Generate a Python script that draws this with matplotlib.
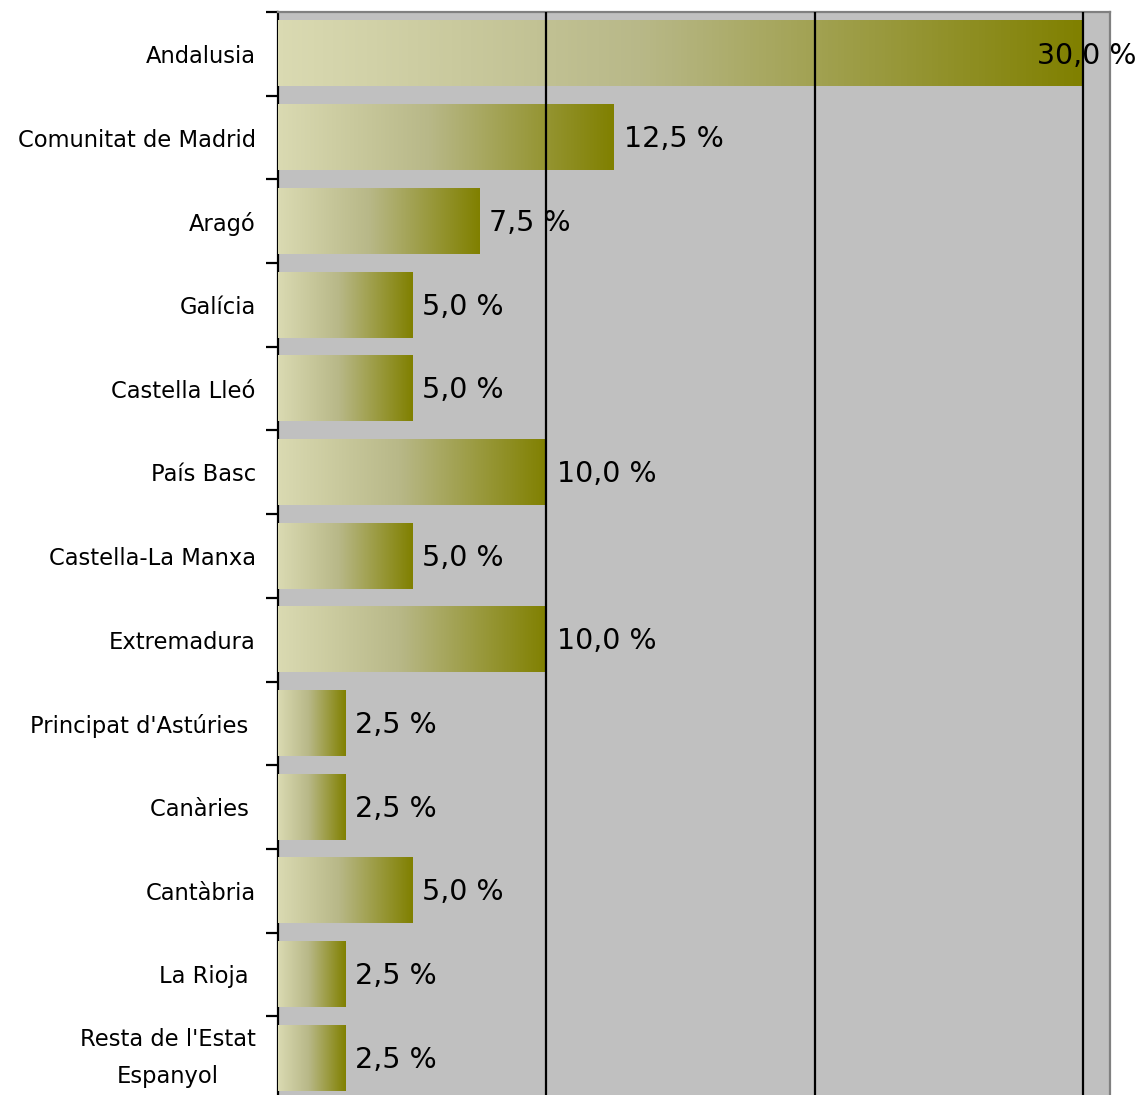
import numpy as np
import matplotlib.pyplot as plt
from matplotlib.colors import LinearSegmentedColormap

regions = ["Andalusia", "Comunitat de Madrid", "Aragó", "Galícia", "Castella Lleó",
           "País Basc", "Castella-La Manxa", "Extremadura", "Principat d'Astúries ",
           "Canàries ", "Cantàbria", "La Rioja ", "Resta de l'Estat\nEspanyol"]
percent = [30.0, 12.5, 7.5, 5.0, 5.0, 10.0, 5.0, 10.0, 2.5, 2.5, 5.0, 2.5, 2.5]

bar_cmap = LinearSegmentedColormap.from_list(
    "olive", [(0.0, "#dadab2"), (0.45, "#b8b888"), (1.0, "#808000")])

fig = plt.figure(figsize=(11.41, 10.95), dpi=100)
ax = fig.add_axes([278 / 1141, -5 / 1095, 832 / 1141, 1088 / 1095])
ax.set_facecolor("#c0c0c0")

xmax = 31
grad = np.linspace(0, 1, 256).reshape(1, -1)
half = 0.39
for i, v in enumerate(percent):
    ax.imshow(grad, cmap=bar_cmap, aspect="auto", interpolation="bilinear",
              extent=[0, v, i + half, i - half], zorder=3)
    label = f"{v:.1f} %".replace(".", ",")
    if v + 3.5 > xmax:
        # no room right of the bar: pull the label back so it ends at the figure edge
        ax.text(xmax + 1.0, i + 0.02, label, va="center", ha="right",
                fontsize=20.5, color="black", zorder=5)
    else:
        ax.text(v + 0.38, i + 0.02, label, va="center", ha="left",
                fontsize=20.5, color="black", zorder=5)

for x in (10, 20, 30):
    ax.axvline(x, color="black", lw=1.6, zorder=4)

ax.set_xlim(0, xmax)
ax.set_ylim(len(regions) - 0.5, -0.5)

ax.set_yticks(range(len(regions)))
ax.set_yticklabels(regions, fontsize=16.3, ha="right", multialignment="center")
last = ax.get_yticklabels()[-1]
last.set_linespacing(1.75)
last.set_va("center")
ax.tick_params(axis="y", which="major", length=0, pad=16)
ax.set_yticks(np.arange(-0.5, len(regions), 1), minor=True)
ax.tick_params(axis="y", which="minor", length=9, width=1.6, color="black")
ax.set_xticks([])

ax.spines["left"].set_color("black")
ax.spines["left"].set_linewidth(1.6)
for side in ("top", "right"):
    ax.spines[side].set_color("#808080")
    ax.spines[side].set_linewidth(1.6)
ax.spines["bottom"].set_visible(False)

fig.savefig("out.png", dpi=100)
